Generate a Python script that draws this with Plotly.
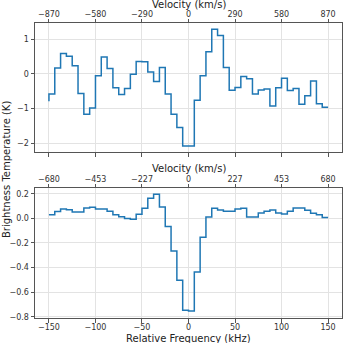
import plotly.graph_objects as go

# Channel frequencies (kHz)
freq_khz = [-150.0, -143.75, -137.5, -131.25, -125.0, -118.75, -112.5, -106.25,
            -100.0, -93.75, -87.5, -81.25, -75.0, -68.75, -62.5, -56.25,
            -50.0, -43.75, -37.5, -31.25, -25.0, -18.75, -12.5, -6.25,
            0.0, 6.25, 12.5, 18.75, 25.0, 31.25, 37.5, 43.75,
            50.0, 56.25, 62.5, 68.75, 75.0, 81.25, 87.5, 93.75,
            100.0, 106.25, 112.5, 118.75, 125.0, 131.25, 137.5, 143.75, 150.0]

# Brightness temperature (K), top panel
tb_top = [-0.79, -0.58, 0.17, 0.59, 0.51, 0.24, -0.56, -1.16,
          -0.98, -0.05, 0.49, 0.16, -0.40, -0.59, -0.42, -0.01,
          0.36, 0.35, 0.06, -0.22, 0.19, -0.58, -1.16, -1.54,
          -2.08, -2.08, -0.76, -0.05, 0.64, 1.29, 1.11, 0.19,
          -0.47, -0.39, -0.07, -0.14, -0.58, -0.46, -0.43, -0.92,
          -0.40, -0.12, -0.48, -0.42, -0.87, -0.63, -0.20, -0.86, -0.96]

# Brightness temperature (K), bottom panel
tb_bottom = [0.030, 0.030, 0.055, 0.077, 0.071, 0.052, 0.052, 0.085,
             0.090, 0.077, 0.077, 0.058, 0.030, 0.014, 0.000, -0.008,
             0.033, 0.082, 0.164, 0.197, 0.093, -0.066, -0.266, -0.504,
             -0.748, -0.753, -0.436, -0.153, 0.011, 0.082, 0.068, 0.058,
             0.058, 0.077, 0.082, 0.011, 0.011, 0.044, 0.058, 0.068,
             0.044, 0.036, 0.058, 0.085, 0.085, 0.066, 0.041, 0.030, 0.008]

freq_ticks = [-150, -100, -50, 0, 50, 100, 150]
freq_labels = ["\u2212150", "\u2212100", "\u221250", "0", "50", "100", "150"]
vel_top_labels = ["\u2212870", "\u2212580", "\u2212290", "0", "290", "580", "870"]
vel_bottom_labels = ["\u2212680", "\u2212453", "\u2212227", "0", "227", "453", "680"]
y_top_ticks = [-2, -1, 0, 1]
y_top_labels = ["\u22122", "\u22121", "0", "1"]
y_bot_ticks = [-0.8, -0.6, -0.4, -0.2, 0.0, 0.2]
y_bot_labels = ["\u22120.8", "\u22120.6", "\u22120.4", "\u22120.2", "0.0", "0.2"]

LINE = "#1f77b4"
SPINE = "#555555"
GRID = "#e3e3e3"
FONT = "DejaVu Sans"
TXT = "#222222"

fig = go.Figure()
fig.add_trace(go.Scatter(x=freq_khz, y=tb_top, mode="lines",
                         line=dict(shape="vh", color=LINE, width=1.5),
                         xaxis="x", yaxis="y", showlegend=False))
fig.add_trace(go.Scatter(x=freq_khz, y=tb_bottom, mode="lines",
                         line=dict(shape="vh", color=LINE, width=1.5),
                         xaxis="x2", yaxis="y2", showlegend=False))
# invisible carriers so the top (velocity) axes are drawn
fig.add_trace(go.Scatter(x=freq_khz, y=tb_top, mode="lines",
                         line=dict(width=0), hoverinfo="skip",
                         xaxis="x3", yaxis="y", showlegend=False))
fig.add_trace(go.Scatter(x=freq_khz, y=tb_bottom, mode="lines",
                         line=dict(width=0), hoverinfo="skip",
                         xaxis="x4", yaxis="y2", showlegend=False))

xr = [-165, 165]
common = dict(showline=True, linecolor=SPINE, linewidth=1, ticks="outside",
              ticklen=3.5, tickwidth=1, tickcolor=SPINE, zeroline=False,
              automargin=False,
              tickfont=dict(size=8, color="#333333", family=FONT))

H = 343
T, B = 23, 25
def py(px):
    """paper y coordinate of a pixel row"""
    return 1 - (px - T) / (H - T - B)

def title(text, y_px, **kw):
    return dict(text=text, xref="paper", yref="paper", x=0.5, y=py(y_px),
                xanchor="center", yanchor="middle", showarrow=False,
                font=dict(size=10, family=FONT, color=TXT), **kw)

fig.update_layout(
    width=350, height=H,
    margin=dict(l=35, r=8, t=T, b=B),
    paper_bgcolor="white", plot_bgcolor="white",
    font=dict(family=FONT, size=10, color=TXT),
    xaxis=dict(domain=[0, 1], anchor="y", range=xr, tickvals=freq_ticks,
               showticklabels=False, showgrid=True, gridcolor=GRID, mirror=True,
               **common),
    xaxis2=dict(domain=[0, 1], anchor="y2", range=xr, tickvals=freq_ticks,
                ticktext=freq_labels, showgrid=True, gridcolor=GRID, mirror=True,
                ticklabelstandoff=-2, **common),
    xaxis3=dict(overlaying="x", anchor="y", side="top", range=xr,
                tickvals=freq_ticks, ticktext=vel_top_labels, showgrid=False,
                ticklabelstandoff=-2, **common),
    xaxis4=dict(overlaying="x2", anchor="y2", side="top", range=xr,
                tickvals=freq_ticks, ticktext=vel_bottom_labels, showgrid=False,
                ticklabelstandoff=-2, **common),
    yaxis=dict(domain=[py(152), 1], anchor="x", range=[-2.25, 1.47],
               tickvals=y_top_ticks, ticktext=y_top_labels, showgrid=True,
               gridcolor=GRID, mirror=True, **common),
    yaxis2=dict(domain=[0, py(188)], anchor="x2", range=[-0.81, 0.247],
                tickvals=y_bot_ticks, ticktext=y_bot_labels, showgrid=True,
                gridcolor=GRID, mirror=True, **common),
    annotations=[
        title("Velocity (km/s)", 4.5),
        title("Velocity (km/s)", 168),
        title("Relative Frequency (kHz)", 338),
        dict(text="Brightness Temperature (K)", textangle=-90,
             xref="paper", yref="paper", x=0, xshift=-29, y=py(170),
             xanchor="center", yanchor="middle", showarrow=False,
             font=dict(size=10, family=FONT, color=TXT)),
    ],
)

fig.write_html("out.html", config={"displayModeBar": False},
               post_script="document.body.style.margin='0';document.body.style.overflow='hidden';")
